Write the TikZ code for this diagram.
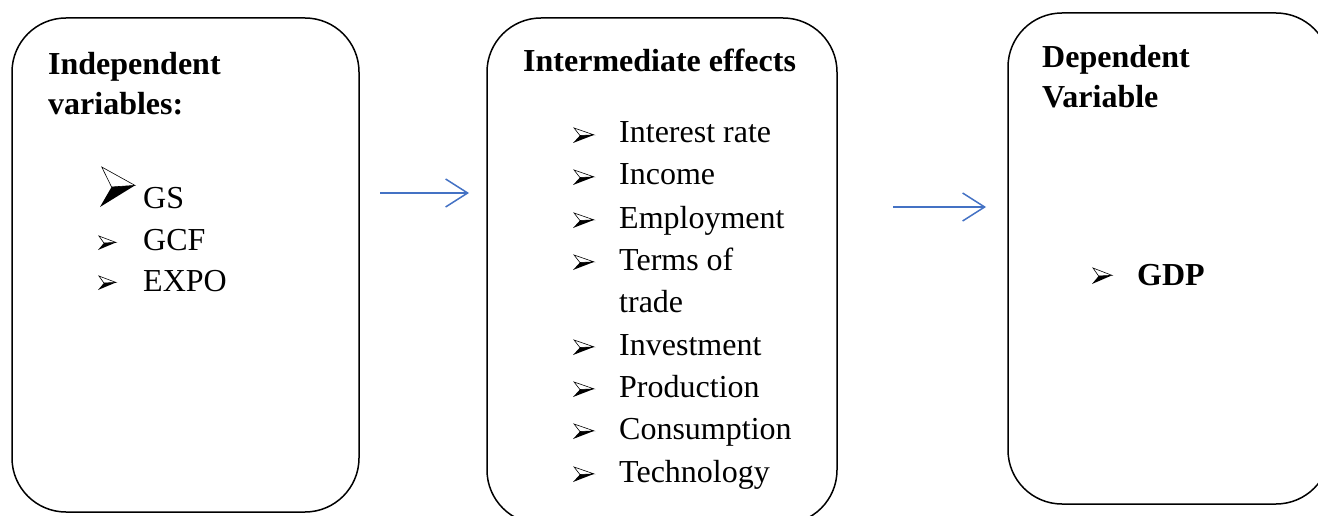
\documentclass[tikz,border=0pt]{standalone}
\usepackage{fontspec}
\setmainfont{Liberation Serif}
\usetikzlibrary{arrows.meta}
\definecolor{flowblue}{HTML}{4472C4}

\tikzset{
  panel/.style={draw=black, line width=1.5pt, rounded corners=54pt, inner sep=0pt},
  head/.style={anchor=base west, inner sep=0pt, font=\fontsize{32pt}{40pt}\selectfont\bfseries},
  item/.style={anchor=base west, inner sep=0pt, font=\fontsize{32pt}{40pt}\selectfont},
  flow/.style={draw=flowblue, line width=1.5pt, -{Straight Barb[length=22pt,width=28pt,line width=1.5pt]}},
  % three-dimensional arrowhead bullet, origin at its lower left corner
  pics/bul/.style 2 args={code={
    \filldraw[fill=white, draw=black, line width=0.6pt, line join=miter]
      (0.05*#1,-#2) -- (#1,-0.54*#2) -- (0.33*#1,-0.5*#2) -- cycle;
    \fill[black] (0.33*#1,-0.5*#2) -- (#1,-0.54*#2) -- (0,0) -- cycle;
  }}
}

\begin{document}
\begin{tikzpicture}[x=1pt, y=-1pt]
  \useasboundingbox (0,0) rectangle (1318,516);

  % the three panels
  \node[panel, minimum width=347pt, minimum height=494pt] (indep) at (185.5,265) {};
  \node[panel, minimum width=350pt, minimum height=506pt] (inter) at (662,271) {};
  \node[panel, minimum width=322pt, minimum height=491pt] (dep) at (1169,258.5) {};

  % independent variables
  \node[head] (t1a) at (48,75) {Independent};
  \node[head] (t1b) at (48,115) {variables:};
  \pic at (100,207) {bul={35}{40}};
  \node[item] (gs) at (143,208) {GS};
  \pic at (98,250) {bul={18}{14}};
  \node[item] (gcf) at (143,251) {GCF};
  \pic at (98,290) {bul={18}{14}};
  \node[item] (expo) at (143,291) {EXPO};

  % intermediate effects
  \node[head] (t2) at (523,72) {Intermediate effects};
  \foreach \y/\txt/\nm in {143/Interest rate/i1, 185/Income/i2, 228/Employment/i3,
                          270/Terms of/i4, 355/Investment/i6, 397/Production/i7,
                          439/Consumption/i8, 482/Technology/i9}{
    \pic at (573,\y) {bul={21}{15}};
    \node[item] (\nm) at (619,\y) {\txt};
  }
  \node[item] (i5) at (619,312) {trade};

  % dependent variable
  \node[head] (t3a) at (1042,68) {Dependent};
  \node[head] (t3b) at (1042,108) {Variable};
  \pic at (1092,284) {bul={20}{16}};
  \node[head] (gdp) at (1137,285) {GDP};

  % flow arrows between the panels
  \coordinate (f1s) at (380,193);
  \coordinate (f1e) at (469,193);
  \coordinate (f2s) at (893,207);
  \coordinate (f2e) at (986,207);
  \draw[flow] (f1s) -- (f1e);
  \draw[flow] (f2s) -- (f2e);
\end{tikzpicture}
\end{document}
